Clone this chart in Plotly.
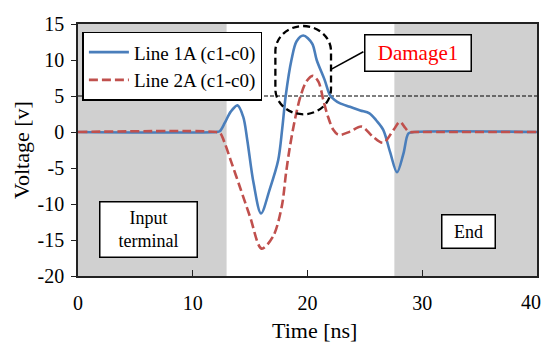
import plotly.graph_objects as go

# ---- data ----
t_line1 = [0, 12.0, 12.35, 12.8, 13.3, 13.9, 14.4, 14.75, 15.3, 15.95, 16.7, 17.45, 17.8, 18.1,
           18.6, 19.05, 19.63, 20.4, 20.8, 21.5, 21.96, 22.4, 22.8, 23.7, 24.6, 25.4, 26.0,
           26.6, 27.2, 27.8, 28.36, 28.8, 29.3, 40]
v_line1 = [0, 0, 0.1, 1.3, 2.8, 3.7, 2.1, -1.1, -7.1, -11.3, -8.0, -3.9, 0.5, 5.0,
           10.0, 12.6, 13.4, 12.3, 10.0, 7.2, 5.1, 4.4, 4.0, 3.5, 3.0, 2.6, 1.6,
           0.3, -2.8, -5.6, -3.0, -0.2, 0, 0]

t_line2 = [0, 12.0, 12.4, 12.8, 13.3, 14.1, 15.0, 16.0, 17.0, 17.75, 18.13, 18.45, 18.9,
           19.4, 19.9, 20.45, 20.95, 21.4, 21.75, 22.25, 22.7, 23.7, 24.7, 25.7, 26.6,
           27.5, 28.05, 28.5, 28.85, 29.3, 40]
v_line2 = [0, 0, -0.2, -1.6, -3.9, -7.6, -11.8, -16.2, -14.5, -10.4, -5.7, -2.2, 1.7,
           5.0, 7.0, 7.8, 7.0, 4.3, 2.3, 0.3, -0.4, 0.05, 0.75, -0.65, -1.5,
           0.3, 1.4, 0.6, 0, 0, 0]

name1 = "Line 1A (c1-c0)"
name2 = "Line 2A (c1-c0)"
x_ticks = [0, 10, 20, 30, 40]
x_ticktext = ["0", "10", "20", "30", ""]   # "40" drawn separately so it fits the page
last_x_label = "40"
y_ticks = [-20, -15, -10, -5, 0, 5, 10, 15]
y_ticktext = ["-20", "-15", "-10", "-5", "0", "5", "10", "15"]
threshold = 5
input_end = 12.95
end_start = 27.57

FONT = "Liberation Serif"

fig = go.Figure()
fig.add_trace(go.Scatter(x=t_line1, y=v_line1, mode="lines", name=name1,
                         line=dict(color="#4a7ebb", width=2.6, shape="spline", smoothing=0.9)))
fig.add_trace(go.Scatter(x=t_line2, y=v_line2, mode="lines", name=name2,
                         line=dict(color="#c0504d", width=2.6, shape="spline", smoothing=0.9,
                                   dash="9px,4px")))

# shaded regions
fig.add_shape(type="rect", x0=0, x1=input_end, y0=-20, y1=15, layer="below",
              fillcolor="#d0d0d0", line_width=0)
fig.add_shape(type="rect", x0=end_start, x1=40, y0=-20, y1=15, layer="below",
              fillcolor="#d0d0d0", line_width=0)
# threshold line
fig.add_shape(type="line", x0=0, x1=40, y0=threshold, y1=threshold, layer="below",
              line=dict(color="black", width=1.2, dash="4px,2px"))

# dashed rounded outline around peak
x0, x1, y0, y1 = 17.2, 22.05, 2.46, 14.72
rx, ry = 2.42, 3.5
k = 0.55
path = (f"M {x0+rx},{y1} "
        f"C {x0+rx+k*rx},{y1} {x1},{y1-ry+k*ry} {x1},{y1-ry} "
        f"L {x1},{y0+ry} "
        f"C {x1},{y0+ry-k*ry} {x1-rx+k*rx},{y0} {x1-rx},{y0} "
        f"C {x1-rx-k*rx},{y0} {x0},{y0+ry-k*ry} {x0},{y0+ry} "
        f"L {x0},{y1-ry} "
        f"C {x0},{y1-ry+k*ry} {x0+rx-k*rx},{y1} {x0+rx},{y1} Z")
fig.add_shape(type="path", path=path, line=dict(color="black", width=2.3, dash="7px,4px"))
# connector
fig.add_shape(type="line", x0=22.05, y0=8.7, x1=24.87, y1=11.15,
              line=dict(color="black", width=1.5))

fig.add_annotation(x=29.6, y=10.97, text="Damage1", showarrow=False,
                   font=dict(family=FONT, size=21, color="red"),
                   bgcolor="white", bordercolor="black", borderwidth=1.5,
                   width=103, height=33, borderpad=1)
fig.add_annotation(x=6.1, y=-13.57, text="Input<br>terminal", showarrow=False,
                   font=dict(family=FONT, size=18, color="black"),
                   bgcolor="white", bordercolor="black", borderwidth=1.5,
                   width=94, height=52, borderpad=1)
fig.add_annotation(x=34.02, y=-13.78, text="End", showarrow=False,
                   font=dict(family=FONT, size=18, color="black"),
                   bgcolor="white", bordercolor="black", borderwidth=1.5,
                   width=50, height=30, borderpad=1)

# last x tick label, kept inside the page
fig.add_annotation(xref="paper", yref="paper", x=1.0, y=-0.103, text=last_x_label,
                   showarrow=False, xanchor="right", yanchor="middle", xshift=5,
                   borderpad=0, font=dict(family=FONT, size=20, color="black"))

# axis titles
fig.add_annotation(xref="paper", yref="paper", x=0.515, y=-0.218, text="Time [ns]",
                   showarrow=False, font=dict(family=FONT, size=22, color="black"),
                   xanchor="center", yanchor="middle")
fig.add_annotation(xref="paper", yref="paper", x=-0.124, y=0.5, text="Voltage [v]",
                   showarrow=False, textangle=-90,
                   font=dict(family=FONT, size=22, color="black"),
                   xanchor="center", yanchor="middle")

fig.update_xaxes(range=[0, 40], tickvals=x_ticks, ticktext=x_ticktext, ticks="inside",
                 ticklen=6, tickwidth=1.3,
                 tickcolor="#222", showline=True, linecolor="#222", linewidth=1.5, mirror=True,
                 showgrid=False, zeroline=False, ticklabelstandoff=8,
                 automargin=False,
                 tickfont=dict(family=FONT, size=20, color="black"))
fig.update_yaxes(range=[-20, 15], tickvals=y_ticks, ticktext=y_ticktext, ticks="outside",
                 ticklen=5, tickwidth=1.3, automargin=False,
                 tickcolor="#222", showline=True, linecolor="#222", linewidth=1.5, mirror=True,
                 showgrid=False, zeroline=False, ticklabelstandoff=3,
                 tickfont=dict(family=FONT, size=20, color="black"))

fig.update_layout(width=543, height=342, margin=dict(l=78, r=6, t=24, b=66, autoexpand=False),
                  plot_bgcolor="white", paper_bgcolor="white",
                  font=dict(family=FONT, color="black"),
                  legend=dict(x=0.0096, y=0.969, xanchor="left", yanchor="top",
                              bgcolor="white", bordercolor="black", borderwidth=1.5,
                              font=dict(family=FONT, size=19, color="black"),
                              tracegroupgap=0, itemwidth=40))

fig.write_html("out.html")
